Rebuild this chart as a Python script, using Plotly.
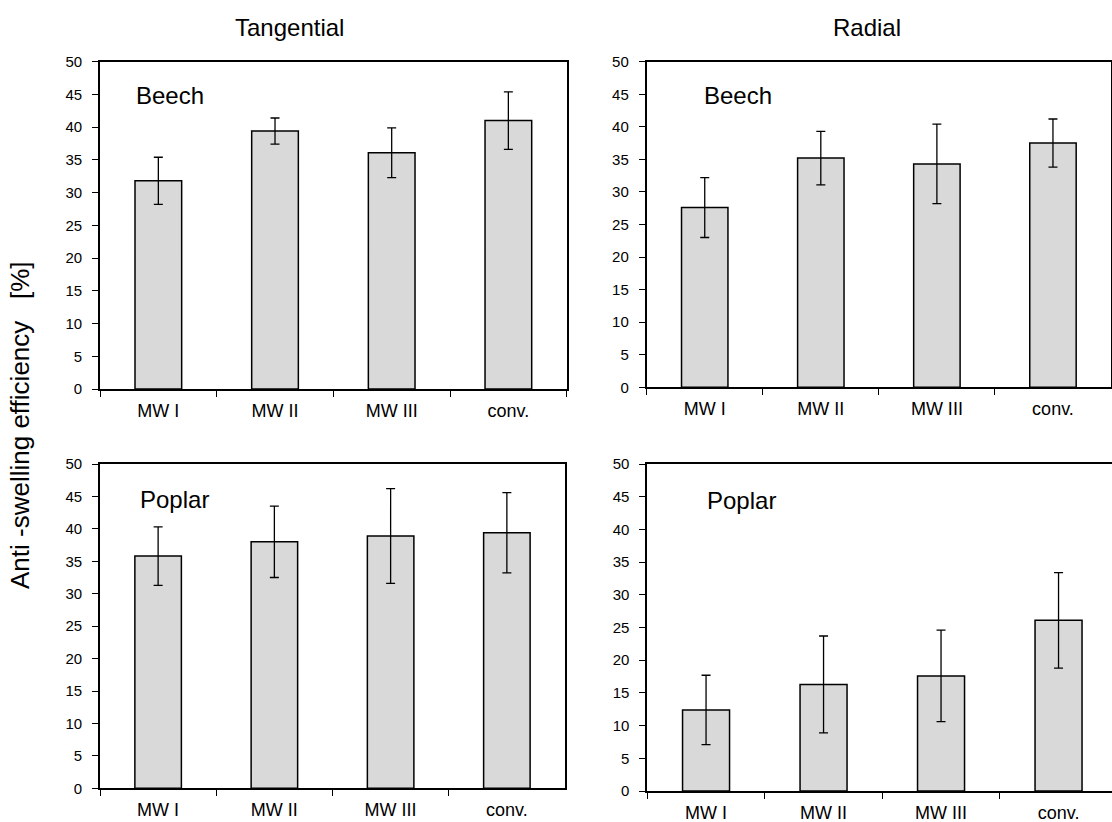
import plotly.graph_objects as go

W, H = 1112, 822

categories = ["MW I", "MW II", "MW III", "conv."]

beech_tang = [31.8, 39.4, 36.1, 41.0]
beech_tang_err = [3.6, 2.0, 3.8, 4.4]
beech_rad = [27.6, 35.2, 34.3, 37.5]
beech_rad_err = [4.6, 4.1, 6.1, 3.7]
poplar_tang = [35.8, 38.0, 38.9, 39.4]
poplar_tang_err = [4.5, 5.5, 7.3, 6.2]
poplar_rad = [12.4, 16.3, 17.6, 26.1]
poplar_rad_err = [5.3, 7.4, 7.0, 7.3]

y_ticks = list(range(0, 55, 5))

FONT = "Liberation Sans, Arial, sans-serif"


def px_x(p):
    return p / W


def px_y(p):
    return 1 - p / H


panels = [
    # values, errors, x-domain px, y-domain px (top, bottom), label, label pos px, x range end
    (beech_tang, beech_tang_err, (100, 566.7), (61.7, 389), "Beech", (134, 96), 3.5),
    (beech_rad, beech_rad_err, (646.7, 1111), (61.7, 387.3), "Beech", (702, 96), 3.5),
    (poplar_tang, poplar_tang_err, (100, 565), (464, 788.3), "Poplar", (138, 499), 3.5),
    (poplar_rad, poplar_rad_err, (647.3, 1112), (464, 791), "Poplar", (705, 500), 3.455),
]

fig = go.Figure()
annotations = []

for i, (vals, errs, xd, yd, label, lpos, xend) in enumerate(panels):
    n = i + 1
    xa = "x" if n == 1 else f"x{n}"
    ya = "y" if n == 1 else f"y{n}"
    fig.add_trace(go.Bar(
        x=categories, y=vals, xaxis=xa, yaxis=ya, width=0.4,
        marker=dict(color="#d9d9d9", line=dict(color="#000000", width=1.5)),
        error_y=dict(type="data", array=errs, visible=True, color="#000000",
                     thickness=1.3, width=4.5),
        showlegend=False,
    ))
    xkey = "xaxis" if n == 1 else f"xaxis{n}"
    ykey = "yaxis" if n == 1 else f"yaxis{n}"
    fig.layout[xkey] = dict(
        domain=[px_x(xd[0]), px_x(xd[1])], anchor=ya, type="category",
        categoryorder="array", categoryarray=categories,
        range=[-0.5, xend], tickson="boundaries", ticks="outside", ticklen=6,
        tickwidth=1.3, tickcolor="#000", showline=True, linecolor="#000",
        linewidth=1.8, mirror=True, showgrid=False, zeroline=False,
        tickfont=dict(family=FONT, size=18, color="#000"),
        ticklabelstandoff=4, automargin=False,
    )
    fig.layout[ykey] = dict(
        domain=[px_y(yd[1]), px_y(yd[0])], anchor=xa, range=[0, 50],
        tickvals=y_ticks, ticks="outside", ticklen=6, tickwidth=1.3,
        tickcolor="#000", showline=True, linecolor="#000", linewidth=1.8,
        mirror=True, showgrid=False, zeroline=False,
        tickfont=dict(family=FONT, size=15, color="#000"),
        ticklabelstandoff=7, automargin=False,
    )
    annotations.append(dict(
        x=px_x(lpos[0]), y=px_y(lpos[1]), xref="paper", yref="paper",
        text=label, showarrow=False, xanchor="left", yanchor="middle",
        font=dict(family=FONT, size=24, color="#000"),
    ))

annotations.append(dict(x=px_x(289), y=px_y(28), xref="paper", yref="paper",
                        text="Tangential", showarrow=False, xanchor="center",
                        yanchor="middle", font=dict(family=FONT, size=24, color="#000")))
annotations.append(dict(x=px_x(867), y=px_y(28), xref="paper", yref="paper",
                        text="Radial", showarrow=False, xanchor="center",
                        yanchor="middle", font=dict(family=FONT, size=24, color="#000")))
annotations.append(dict(x=px_x(20), y=px_y(425), xref="paper", yref="paper",
                        text="Anti -swelling efficiency\u00a0\u00a0 [%]",
                        showarrow=False, textangle=-90, xanchor="center",
                        yanchor="middle", font=dict(family=FONT, size=26, color="#000")))

fig.update_layout(
    width=W, height=H, margin=dict(l=0, r=0, t=0, b=0, autoexpand=False),
    paper_bgcolor="#ffffff", plot_bgcolor="#ffffff",
    annotations=annotations, bargap=0.6,
)

fig.write_html("out.html", config={"displayModeBar": False})
